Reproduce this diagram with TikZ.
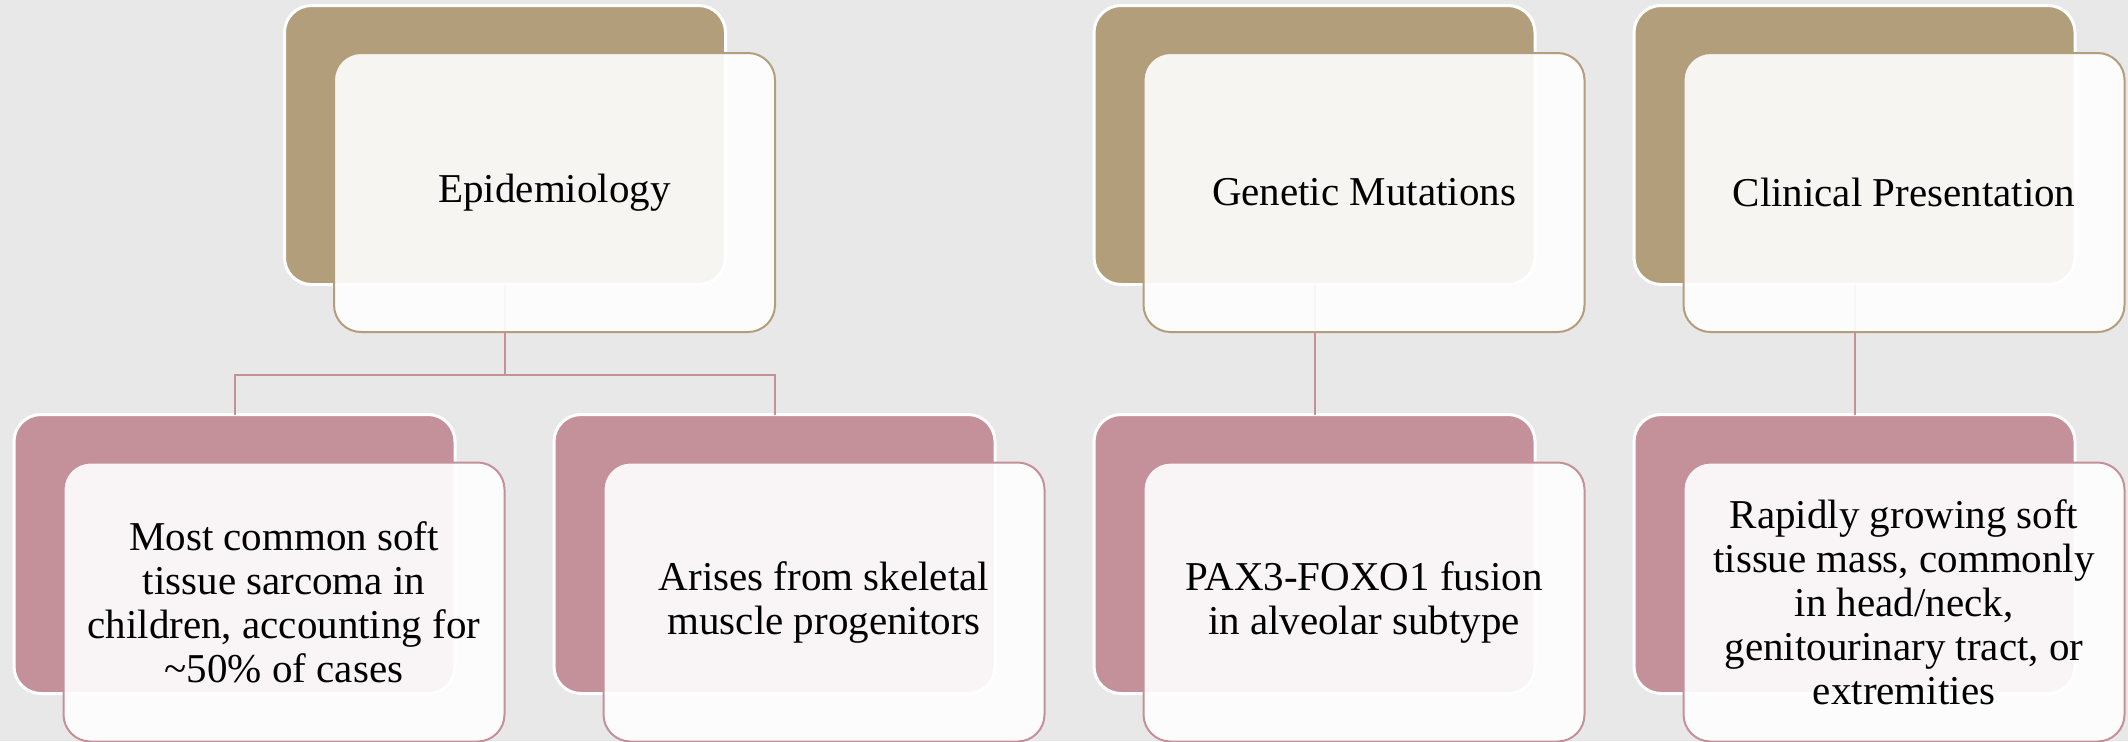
\documentclass[tikz,border=0pt]{standalone}
\usepackage{fontspec}
\setmainfont{Liberation Serif}
\definecolor{bgc}{HTML}{E8E8E8}
\definecolor{tan}{HTML}{B39E7C}
\definecolor{rose}{HTML}{C4919B}
\tikzset{
  backbox/.style={draw=white, line width=1.5pt, rounded corners=13.5pt,
    minimum width=220.5pt, minimum height=139.5pt, inner sep=0pt, outer sep=0pt},
  tanback/.style={backbox, fill=tan},
  roseback/.style={backbox, fill=rose},
  frontbox/.style={line width=1pt, rounded corners=13.5pt, fill=white, fill opacity=0.9,
    text opacity=1, minimum width=220.5pt, minimum height=139.5pt, inner sep=0pt, outer sep=0pt,
    align=center, font=\fontsize{20.5}{22}\selectfont, text=black},
  tanfront/.style={frontbox, draw=tan},
  rosefront/.style={frontbox, draw=rose},
  link/.style={draw=rose, line width=1pt}
}
\begin{document}
\begin{tikzpicture}[x=0.5pt,y=-0.5pt]
\useasboundingbox (0,0) rectangle (2128,741);
\fill[bgc] (0,0) rectangle (2128,741);
% back boxes
\node[tanback] (epib) at (505,145) {};
\node[tanback] (genb) at (1314.5,145) {};
\node[tanback] (clib) at (1854.5,145) {};
\node[roseback] (c1b) at (234.5,554) {};
\node[roseback] (c2b) at (774.5,554) {};
\node[roseback] (c3b) at (1314.5,554) {};
\node[roseback] (c4b) at (1854.5,554) {};
% connectors
\coordinate (fork) at (505,375);
\draw[link] (epib.south) -- (fork) -| (c1b.north);
\draw[link] (fork) -| (c2b.north);
\draw[link] (genb.south) -- (c3b.north);
\draw[link] (clib.south) -- (c4b.north);
% front boxes
\node[tanfront] (epif) at (554.5,192.5) {Epidemiology};
\node[tanfront] (genf) at (1364,192.5) {Genetic Mutations};
\node[tanfront] (clif) at (1904,192.5) {Clinical Presentation};
\node[rosefront] (c1f) at (284,602) {Most common soft\\tissue sarcoma in\\children, accounting for\\\textasciitilde 50\% of cases};
\node[rosefront] (c2f) at (824,602) {Arises from skeletal\\muscle progenitors};
\node[rosefront] (c3f) at (1364,602) {PAX3-FOXO1 fusion\\in alveolar subtype};
\node[rosefront] (c4f) at (1904,602) {Rapidly growing soft\\tissue mass, commonly\\in head/neck,\\genitourinary tract, or\\extremities};
\end{tikzpicture}
\end{document}
